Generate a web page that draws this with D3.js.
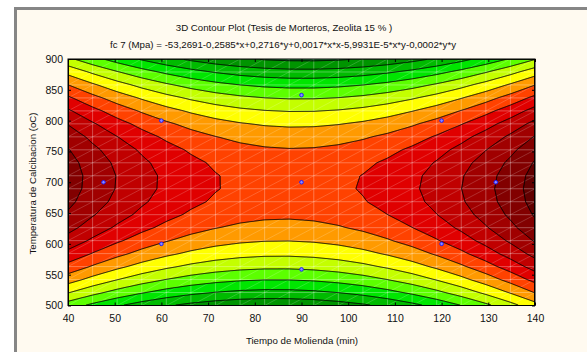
<!DOCTYPE html>
<html>
<head>
<meta charset="utf-8">
<script src="https://cdn.jsdelivr.net/npm/d3@7"></script>
<style>
  body { margin: 0; background: #ffffff; }
  svg { display: block; }
  text { font-family: "Liberation Sans", Arial, sans-serif; fill: #111; }
</style>
</head>
<body>
<svg id="chart" width="587" height="352"></svg>
<script>
// ---- chart content ----
const titleLines = [
  "3D Contour Plot (Tesis de Morteros, Zeolita 15 % )",
  "fc 7 (Mpa) = -53,2691-0,2585*x+0,2716*y+0,0017*x*x-5,9931E-5*x*y-0,0002*y*y"
];
const xLabel = "Tiempo de Molienda (min)";
const yLabel = "Temperatura de Calcibacion (oC)";
const xTicks = [40, 50, 60, 70, 80, 90, 100, 110, 120, 130, 140];
const yTicks = [500, 550, 600, 650, 700, 750, 800, 850, 900];
const xDomain = [40, 140];
const yDomain = [500, 900];

// fitted response surface: terms 1, x, y, x*x, x*y, y*y
const surfaceTerms = ["1", "x", "y", "x*x", "x*y", "y*y"];
const surfaceCoef = [-53.2691, -0.2585, 0.2716, 0.00172, -5.9931e-5, -0.000191];

// contour levels and band colours (lowest band first)
const levels = [22.5, 23.5, 24.5, 25.5, 26.5, 27.5, 28.5, 29.5, 30.5, 31.5, 32.5, 33.5, 34.5];
const bandColors = ["#006a1e", "#009400", "#00bb00", "#00e600", "#5cff00", "#c4ff00",
                    "#ffff00", "#ff9a00", "#ff4200", "#e00000", "#c00000", "#a00000",
                    "#820000", "#620000"];

// experimental design points (x = molienda, y = calcinacion)
const designX = [47.6, 60, 60, 90, 90, 90, 120, 120, 131.6];
const designY = [700, 800, 600, 841.4, 700, 558.6, 800, 600, 700];

// surface is evaluated on a mesh of this many nodes per side
const meshNodes = 20;

// ---- layout ----
const svg = d3.select("#chart");
const plot = { left: 68, right: 535, top: 59, bottom: 305.5 };
const W = plot.right - plot.left, H = plot.bottom - plot.top;
const labelSize = 9.7, tickSize = 10.5;

const x = d3.scaleLinear().domain(xDomain).range([plot.left, plot.right]);
const y = d3.scaleLinear().domain(yDomain).range([plot.bottom, plot.top]);

// page frame
svg.append("rect").attr("x", 0).attr("y", 0).attr("width", 587).attr("height", 352).attr("fill", "#ffffff");
svg.append("rect")
  .attr("x", 15.5).attr("y", 8.5).attr("width", 640).attr("height", 420)
  .attr("fill", "#fffaf0").attr("stroke", "#868686").attr("stroke-width", 3);

// ---- surface on the mesh, piecewise-linear over triangles ----
function surface(xv, yv) {
  const t = [1, xv, yv, xv * xv, xv * yv, yv * yv];
  return d3.sum(t, (v, i) => v * surfaceCoef[i]);
}
const mx = d3.range(meshNodes).map(i => xDomain[0] + i * (xDomain[1] - xDomain[0]) / (meshNodes - 1));
const my = d3.range(meshNodes).map(j => yDomain[0] + j * (yDomain[1] - yDomain[0]) / (meshNodes - 1));
const mesh = my.map(yv => mx.map(xv => surface(xv, yv)));

function meshValue(xv, yv) {
  const hx = (xDomain[1] - xDomain[0]) / (meshNodes - 1);
  const hy = (yDomain[1] - yDomain[0]) / (meshNodes - 1);
  let i = Math.min(meshNodes - 2, Math.max(0, Math.floor((xv - xDomain[0]) / hx)));
  let j = Math.min(meshNodes - 2, Math.max(0, Math.floor((yv - yDomain[0]) / hy)));
  const u = (xv - mx[i]) / hx, v = (yv - my[j]) / hy;
  const f00 = mesh[j][i], f10 = mesh[j][i + 1], f01 = mesh[j + 1][i], f11 = mesh[j + 1][i + 1];
  if (u >= v) return f00 + u * (f10 - f00) + v * (f11 - f10);
  return f00 + v * (f01 - f00) + u * (f11 - f01);
}

// raster one sample per pixel (row 0 at the top)
const nx = Math.round(W), ny = Math.round(H);
const values = new Float64Array(nx * ny);
for (let r = 0; r < ny; r++) {
  const yv = y.invert(plot.top + (r + 0.5) * H / ny);
  for (let c = 0; c < nx; c++) {
    const xv = x.invert(plot.left + (c + 0.5) * W / nx);
    values[r * nx + c] = meshValue(xv, yv);
  }
}
const contours = d3.contours().size([nx, ny]).thresholds(levels)(values);

const rasterToScreen = d3.geoTransform({
  point(cx, cy) {
    const xv = xDomain[0] + (cx / nx) * (xDomain[1] - xDomain[0]);
    const yv = yDomain[1] - (cy / ny) * (yDomain[1] - yDomain[0]);
    this.stream.point(x(xv), y(yv));
  }
});
const path = d3.geoPath(rasterToScreen);

svg.append("clipPath").attr("id", "plotClip")
  .append("rect").attr("x", plot.left).attr("y", plot.top).attr("width", W).attr("height", H);

const g = svg.append("g").attr("clip-path", "url(#plotClip)");
g.append("rect").attr("x", plot.left).attr("y", plot.top).attr("width", W).attr("height", H)
  .attr("fill", bandColors[0]);
g.selectAll("path.band").data(contours).join("path")
  .attr("class", "band")
  .attr("d", path)
  .attr("fill", (d, i) => bandColors[i + 1]);

// mesh lines and triangle diagonals
const grid = g.append("g");
grid.selectAll("line.gx").data(mx).join("line")
  .attr("x1", d => x(d)).attr("x2", d => x(d)).attr("y1", plot.top).attr("y2", plot.bottom)
  .attr("stroke", "#ffffff").attr("stroke-opacity", 0.3).attr("stroke-width", 1);
grid.selectAll("line.gy").data(my).join("line")
  .attr("y1", d => y(d)).attr("y2", d => y(d)).attr("x1", plot.left).attr("x2", plot.right)
  .attr("stroke", "#ffffff").attr("stroke-opacity", 0.3).attr("stroke-width", 1);
const diag = [];
for (let j = 0; j < meshNodes - 1; j++)
  for (let i = 0; i < meshNodes - 1; i++) diag.push([i, j]);
grid.selectAll("line.gd").data(diag).join("line")
  .attr("x1", d => x(mx[d[0]])).attr("y1", d => y(my[d[1]]))
  .attr("x2", d => x(mx[d[0] + 1])).attr("y2", d => y(my[d[1] + 1]))
  .attr("stroke", "#ffffff").attr("stroke-opacity", 0.18).attr("stroke-width", 1);

// contour lines
g.selectAll("path.line").data(contours).join("path")
  .attr("class", "line")
  .attr("d", path)
  .attr("fill", "none").attr("stroke", "#000").attr("stroke-width", 1);

// design points
svg.selectAll("circle.pt").data(designX.map((d, i) => [d, designY[i]])).join("circle")
  .attr("class", "pt")
  .attr("cx", d => x(d[0])).attr("cy", d => y(d[1])).attr("r", 1.8)
  .attr("fill", "#8c8cff").attr("stroke", "#1a1aff").attr("stroke-width", 1);

// frame
svg.append("rect").attr("x", plot.left).attr("y", plot.top).attr("width", W).attr("height", H)
  .attr("fill", "none").attr("stroke", "#000").attr("stroke-width", 1);

// axes with inward ticks on all four sides
const tickLen = 3;
const xb = svg.append("g").attr("transform", `translate(0,${plot.bottom})`)
  .call(d3.axisBottom(x).tickValues(xTicks).tickSizeInner(-tickLen).tickSizeOuter(0).tickPadding(9));
const xt = svg.append("g").attr("transform", `translate(0,${plot.top})`)
  .call(d3.axisTop(x).tickValues(xTicks).tickSizeInner(-tickLen).tickSizeOuter(0).tickFormat(""));
const yl = svg.append("g").attr("transform", `translate(${plot.left},0)`)
  .call(d3.axisLeft(y).tickValues(yTicks).tickSizeInner(-tickLen).tickSizeOuter(0).tickPadding(5));
const yr = svg.append("g").attr("transform", `translate(${plot.right},0)`)
  .call(d3.axisRight(y).tickValues(yTicks).tickSizeInner(-tickLen).tickSizeOuter(0).tickFormat(""));
[xb, xt, yl, yr].forEach(a => {
  a.select(".domain").remove();
  a.selectAll(".tick line").attr("stroke", "#000");
  a.selectAll("text").attr("font-size", tickSize).attr("fill", "#111")
    .style("font-family", "'Liberation Sans', Arial, sans-serif");
});

// titles and axis labels
svg.append("text").attr("x", 284).attr("y", 30.5).attr("text-anchor", "middle")
  .attr("font-size", labelSize).text(titleLines[0]);
svg.append("text").attr("x", 283).attr("y", 48).attr("text-anchor", "middle")
  .attr("font-size", labelSize).text(titleLines[1]);
svg.append("text").attr("x", 302).attr("y", 343.5).attr("text-anchor", "middle")
  .attr("font-size", labelSize).text(xLabel);
svg.append("text").attr("transform", "translate(35.5,183.5) rotate(-90)")
  .attr("text-anchor", "middle").attr("font-size", labelSize).text(yLabel);
</script>
</body>
</html>
